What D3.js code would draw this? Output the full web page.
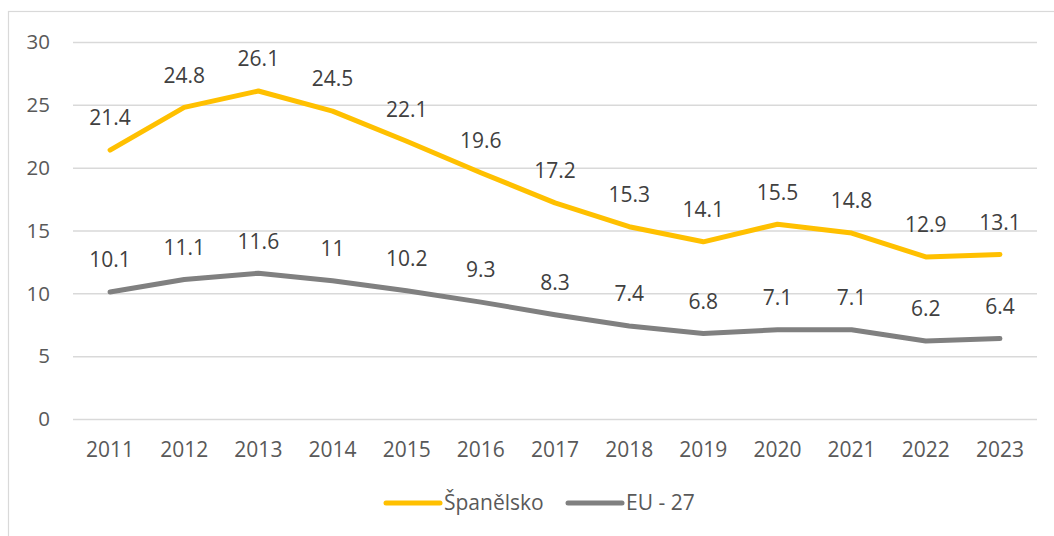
<!DOCTYPE html>
<html><head><meta charset="utf-8">
<script src="https://cdn.jsdelivr.net/npm/d3@7"></script>
<style>body{margin:0;background:#fff}svg{display:block}text{font-family:"Open Sans",sans-serif}</style>
</head><body>
<script>
const years = ["2011","2012","2013","2014","2015","2016","2017","2018","2019","2020","2021","2022","2023"];
const spain = [21.4,24.8,26.1,24.5,22.1,19.6,17.2,15.3,14.1,15.5,14.8,12.9,13.1];
const eu27 = [10.1,11.1,11.6,11,10.2,9.3,8.3,7.4,6.8,7.1,7.1,6.2,6.4];
const yTicks = [0,5,10,15,20,25,30];
const seriesNames = ["Španělsko","EU - 27"];
const seriesColors = ["#FFC000","#808080"];

(function(){
const W=1054,H=536;
const svg=d3.select("body").append("svg").attr("width",W).attr("height",H);
svg.append("rect").attr("x",8.5).attr("y",11.5).attr("width",W+10).attr("height",H+10)
  .attr("fill","none").attr("stroke","#d9d9d9").attr("stroke-width",1.2);

const mL=73,mR=1037,mT=42,mB=419;
const x=d3.scaleBand().domain(years).range([mL,mR]);
const y=d3.scaleLinear().domain([0,30]).range([mB,mT]);

svg.append("g").selectAll("line").data(yTicks).join("line")
  .attr("x1",mL).attr("x2",mR).attr("y1",d=>y(d)+0.5).attr("y2",d=>y(d)+0.5)
  .attr("stroke","#d9d9d9").attr("stroke-width",1.5);

svg.append("g").selectAll("text").data(yTicks).join("text")
  .attr("x",50).attr("y",d=>y(d)).attr("dy","0.35em").attr("text-anchor","end")
  .attr("fill","#595959").attr("font-size",20.5).text(d=>d);

svg.append("g").selectAll("text").data(years).join("text")
  .attr("x",d=>x(d)+x.bandwidth()/2).attr("y",450).attr("dy","0.35em").attr("text-anchor","middle")
  .attr("fill","#595959").attr("font-size",21).text(d=>d);

const cx=d=>x(d)+x.bandwidth()/2;
[spain,eu27].forEach((vals,i)=>{
  const line=d3.line().x((v,j)=>cx(years[j])).y(v=>y(v));
  svg.append("path").datum(vals).attr("d",line).attr("fill","none")
    .attr("stroke",seriesColors[i]).attr("stroke-width",5).attr("stroke-linecap","round").attr("stroke-linejoin","round");
  svg.append("g").selectAll("text").data(vals).join("text")
    .attr("x",(v,j)=>cx(years[j])).attr("y",v=>y(v)-32).attr("dy","0.35em").attr("text-anchor","middle")
    .attr("fill","#404040").attr("font-size",21).text(v=>String(v));
});

const legX=[386,568];
seriesNames.forEach((n,i)=>{
  svg.append("line").attr("x1",legX[i]).attr("x2",legX[i]+54).attr("y1",503).attr("y2",503)
    .attr("stroke",seriesColors[i]).attr("stroke-width",5).attr("stroke-linecap","round");
  svg.append("text").attr("x",legX[i]+58).attr("y",503).attr("dy","0.35em")
    .attr("fill","#595959").attr("font-size",21).text(n);
});
})();
</script>
</body></html>
